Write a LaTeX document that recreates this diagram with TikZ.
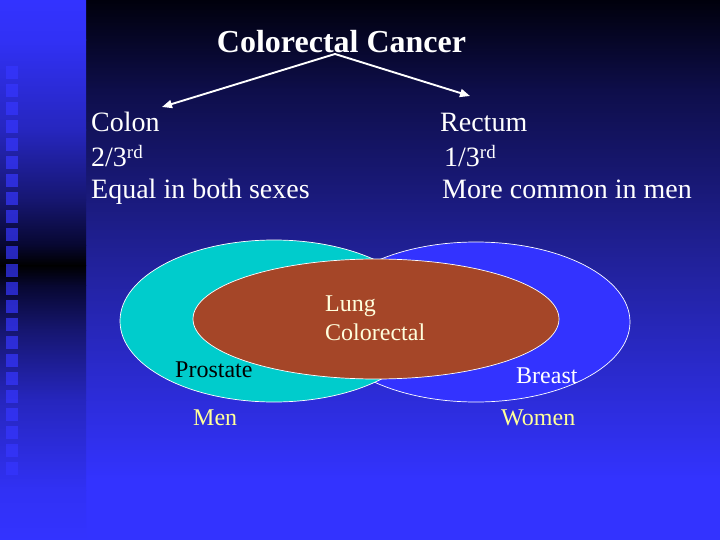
\documentclass[tikz,border=0pt]{standalone}
\usepackage{fontspec}
\setmainfont{Liberation Serif}
\usetikzlibrary{arrows.meta}
\definecolor{bgA}{HTML}{00000C}
\definecolor{bgB}{HTML}{0E0E4A}
\definecolor{bgC}{HTML}{22229E}
\definecolor{bgD}{HTML}{3333FF}
\definecolor{stA}{HTML}{3333FF}
\definecolor{stB}{HTML}{3131F5}
\definecolor{stC}{HTML}{2626BE}
\definecolor{stD}{HTML}{161670}
\definecolor{stE}{HTML}{070730}
\definecolor{stF}{HTML}{000000}
\definecolor{sqcol}{HTML}{3636FF}
\definecolor{cyanfill}{HTML}{00CCCC}
\definecolor{brownfill}{HTML}{A54628}
\definecolor{bluefill}{HTML}{3333FF}
\definecolor{creamtxt}{HTML}{FFFFDD}
\definecolor{yellowtxt}{HTML}{FFFF99}
\tikzset{
  txt/.style={anchor=base west, inner sep=0pt, text=white, font=\fontsize{28}{33}\selectfont},
  vtxt/.style={anchor=base west, inner sep=0pt, font=\fontsize{24}{28}\selectfont},
  venn/.style={draw=white, line width=0.7pt},
  pointer/.style={draw=white, line width=1.9pt, -{Triangle[length=10pt,width=8pt]}},
  sq/.style={fill=sqcol, fill opacity=0.7}
}
\newcommand{\rdsup}{\raisebox{8.5pt}{\fontsize{19}{19}\selectfont rd}}
\begin{document}
\begin{tikzpicture}[x=1pt,y=-1pt]
\useasboundingbox (0,0) rectangle (720,540);
% main background gradient
\shade[top color=bgA, bottom color=bgB] (86,0) rectangle (720,90.5);
\shade[top color=bgB, bottom color=bgC] (86,90) rectangle (720,270.5);
\shade[top color=bgC, bottom color=bgD] (86,270) rectangle (720,480.5);
\fill[bgD] (86,480) rectangle (720,540);
% left strip gradient
\shade[top color=stA, bottom color=stB] (0,0) rectangle (86,40.5);
\shade[top color=stB, bottom color=stC] (0,40) rectangle (86,130.5);
\shade[top color=stC, bottom color=stD] (0,130) rectangle (86,200.5);
\shade[top color=stD, bottom color=stE] (0,200) rectangle (86,245.5);
\shade[top color=stE, bottom color=stF] (0,245) rectangle (86,265.5);
\shade[top color=stF, bottom color=stE] (0,265) rectangle (86,285.5);
\shade[top color=stE, bottom color=stD] (0,285) rectangle (86,330.5);
\shade[top color=stD, bottom color=stC] (0,330) rectangle (86,400.5);
\shade[top color=stC, bottom color=stB] (0,400) rectangle (86,490.5);
\shade[top color=stB, bottom color=stA] (0,490) rectangle (86,540);
% squares
\foreach \k in {-8,...,14} {
  \fill[sq] (6,{210+18*\k}) rectangle (18,{222.7+18*\k});
}
% title and arrows
\node[anchor=base, inner sep=0pt, text=white, font=\bfseries\fontsize{32}{38}\selectfont] (title) at (341.5,53) {Colorectal Cancer};
\coordinate (apex) at (335,54);
\coordinate (lend) at (162,107);
\coordinate (rend) at (470,96);
\draw[pointer] (apex) -- (lend);
\draw[pointer] (apex) -- (rend);
% left column
\node[txt] (colon) at (91,132) {Colon};
\node[txt] (colfrac) at (91,167) {2/3\rdsup};
\node[txt] (colsex) at (91,199) {Equal in both sexes};
% right column
\node[txt] (rectum) at (440,132) {Rectum};
\node[txt] (recfrac) at (444,167) {1/3\rdsup};
\node[txt] (recsex) at (442,199) {More common in men};
% Venn ellipses
\draw[venn, fill=bluefill] (476,322) ellipse [x radius=154, y radius=80];
\draw[venn, fill=cyanfill] (274,321) ellipse [x radius=154, y radius=81];
\draw[venn, fill=brownfill] (376,319) ellipse [x radius=183, y radius=60];
% Venn labels
\node[vtxt, text=creamtxt] (lung) at (325,311) {Lung};
\node[vtxt, text=creamtxt] (colorectal) at (325,340) {Colorectal};
\node[vtxt, text=black] (prostate) at (175,377) {Prostate};
\node[vtxt, text=white] (breast) at (516,383) {Breast};
\node[vtxt, text=yellowtxt] (men) at (193,425) {Men};
\node[vtxt, text=yellowtxt] (women) at (501,425) {Women};
\end{tikzpicture}
\end{document}
